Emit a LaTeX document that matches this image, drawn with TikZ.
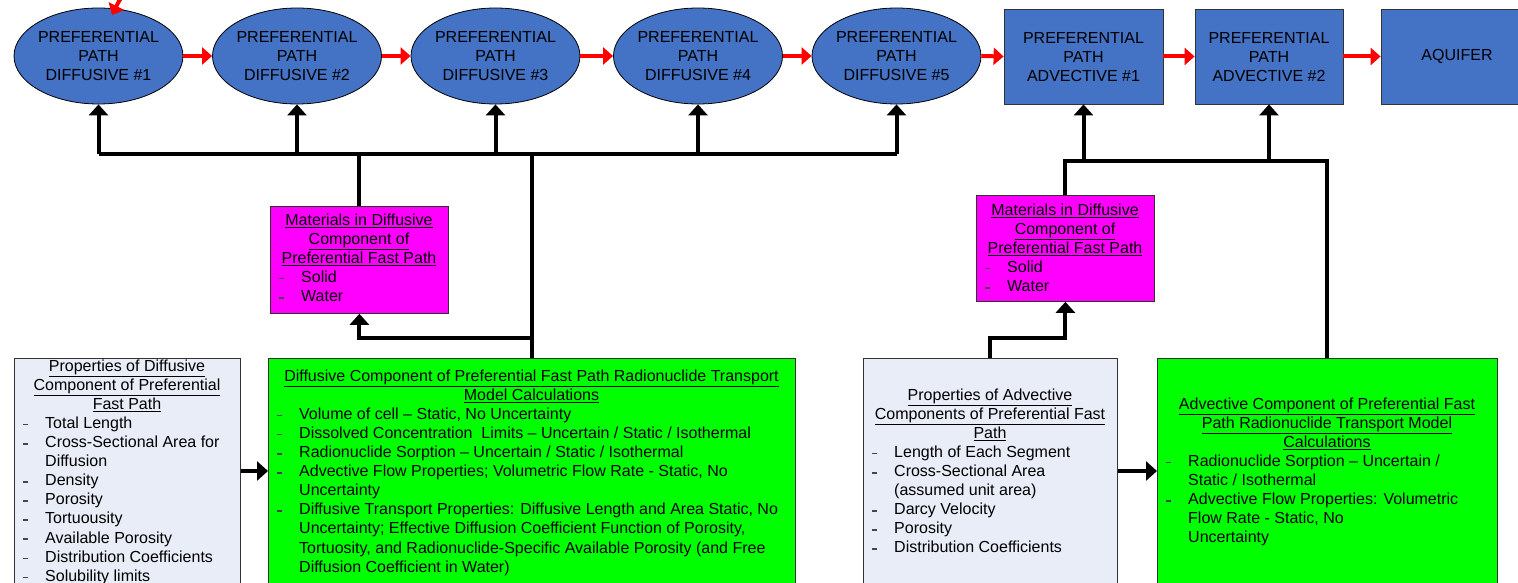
\documentclass[tikz,border=0pt]{standalone}
\usepackage{fontspec}
\setmainfont{Liberation Sans}
\usetikzlibrary{arrows.meta,shapes.geometric}

\definecolor{pathblue}{RGB}{68,114,196}
\definecolor{propfill}{RGB}{232,237,247}
\definecolor{calcgreen}{RGB}{0,255,0}
\definecolor{matmagenta}{RGB}{255,0,255}
\definecolor{edgegray}{RGB}{50,50,50}
\definecolor{dashgray}{RGB}{70,70,70}

\newcommand\bodyfont{\fontsize{16}{19.1}\selectfont}
% taller strut that lowers the three-line labels a little
\newcommand\topstrut{\rule{0pt}{17.4pt}}
% underlined heading line
\newcommand\hdl[1]{\strut\underline{#1}}
% bullet line and its continuation
\newcommand\dashmark{\raisebox{3pt}{\textcolor{dashgray}{\rule{5pt}{1.6pt}}}}
\newcommand\itm[1]{\strut\hspace*{9pt}\dashmark\hspace*{17pt}#1}
\newcommand\cnt[1]{\strut\hspace*{31pt}#1}

\begin{document}
\begin{tikzpicture}[x=1pt,y=-1pt,
  diffnode/.style={ellipse, draw=black, line width=0.8pt, fill=pathblue,
    minimum width=169pt, minimum height=96pt, inner sep=-1pt, align=center, font=\bodyfont},
  advnode/.style={rectangle, draw=edgegray, line width=0.8pt, fill=pathblue,
    minimum height=95pt, inner sep=0pt, align=center, font=\bodyfont},
  propbox/.style={rectangle, draw=edgegray, line width=0.8pt, fill=propfill, anchor=north west, inner sep=0pt},
  calcbox/.style={rectangle, draw=edgegray, line width=0.8pt, fill=calcgreen, anchor=north west, inner sep=0pt},
  matbox/.style={rectangle, draw=edgegray, line width=0.8pt, fill=matmagenta, anchor=north west, inner sep=0pt},
  heading/.style={anchor=north, inner sep=0pt, align=center, font=\bodyfont},
  items/.style={anchor=north west, inner sep=0pt, align=left, font=\bodyfont},
  flow/.style={draw=red, line width=4pt, -{Triangle[length=10pt,width=17pt]}},
  feed/.style={draw=black, line width=4pt},
  feedtip/.style={feed, -{Triangle[length=11pt,width=19pt]}}
]
\clip (0,0) rectangle (1518,583);
\fill[white] (0,0) rectangle (1518,583);

% ---- transport chain ----
\node[diffnode] (d1) at (98.5,56) {\topstrut PREFERENTIAL\\\strut PATH\\\strut DIFFUSIVE \#1};
\node[diffnode] (d2) at (297,56) {\topstrut PREFERENTIAL\\\strut PATH\\\strut DIFFUSIVE \#2};
\node[diffnode] (d3) at (495.5,56) {\topstrut PREFERENTIAL\\\strut PATH\\\strut DIFFUSIVE \#3};
\node[diffnode] (d4) at (698,56) {\topstrut PREFERENTIAL\\\strut PATH\\\strut DIFFUSIVE \#4};
\node[diffnode] (d5) at (896.5,56) {\topstrut PREFERENTIAL\\\strut PATH\\\strut DIFFUSIVE \#5};
\node[advnode, minimum width=159pt] (a1) at (1083.5,56.5) {\topstrut PREFERENTIAL\\\strut PATH\\\strut ADVECTIVE \#1};
\node[advnode, minimum width=148pt] (a2) at (1269,56.5) {\topstrut PREFERENTIAL\\\strut PATH\\\strut ADVECTIVE \#2};
\node[advnode, minimum width=152pt] (aq) at (1457,56.5) {AQUIFER};

\draw[flow] (d1.east) -- (d2.west);
\draw[flow] (d2.east) -- (d3.west);
\draw[flow] (d3.east) -- (d4.west);
\draw[flow] (d4.east) -- (d5.west);
\draw[flow] (d5.east) -- (a1.west);
\draw[flow] (a1.east) -- (a2.west);
\draw[flow] (a2.east) -- (aq.west);

% incoming flow entering the first diffusive cell from above
\coordinate (hookstart) at (130,-10);
\coordinate (hooktip) at (112,15);
\draw[flow] (hookstart) .. controls (121,-3) .. (hooktip);

% ---- boxes ----
\node[propbox, minimum width=226pt, minimum height=240pt] (p1) at (14,358) {};
\node[calcbox, minimum width=527pt, minimum height=240pt] (g1) at (268,358) {};
\node[matbox, minimum width=178pt, minimum height=107pt] (m1) at (270,206) {};
\node[propbox, minimum width=254pt, minimum height=240pt] (p2) at (863,358) {};
\node[calcbox, minimum width=340pt, minimum height=240pt] (g2) at (1157,358) {};
\node[matbox, minimum width=178pt, minimum height=106pt] (m2) at (976,195) {};

% ---- box texts ----
\node[heading] (p1h) at (127,357.6) {\hdl{Properties of Diffusive}\\\hdl{Component of Preferential}\\\hdl{Fast Path}};
\node[items] (p1i) at (14,414.9) {\itm{Total Length}\\\itm{Cross-Sectional Area for}\\\cnt{Diffusion}\\\itm{Density}\\\itm{Porosity}\\\itm{Tortuousity}\\\itm{Available Porosity}\\\itm{Distribution Coefficients}\\\itm{Solubility limits}};

\node[heading] (g1h) at (531.5,367.6) {\hdl{Diffusive Component of Preferential Fast Path Radionuclide Transport}\\\hdl{Model Calculations}};
\node[items] (g1i) at (268,405.8) {\itm{Volume of cell -- Static, No Uncertainty}\\\itm{Dissolved Concentration~ Limits -- Uncertain / Static / Isothermal}\\\itm{Radionuclide Sorption -- Uncertain / Static / Isothermal}\\\itm{Advective Flow Properties; Volumetric Flow Rate - Static, No}\\\cnt{Uncertainty}\\\itm{Diffusive Transport Properties: Diffusive Length and Area Static, No}\\\cnt{Uncertainty; Effective Diffusion Coefficient Function of Porosity,}\\\cnt{Tortuosity, and Radionuclide-Specific Available Porosity (and Free}\\\cnt{Diffusion Coefficient in Water)}};

\node[heading] (m1h) at (359,211.6) {\hdl{Materials in Diffusive}\\\hdl{Component of}\\\hdl{Preferential Fast Path}};
\node[items] (m1i) at (270,268.9) {\itm{Solid}\\\itm{Water}};

\node[heading] (p2h) at (990,386.6) {\hdl{Properties of Advective}\\\hdl{Components of Preferential Fast}\\\hdl{Path}};
\node[items] (p2i) at (863,443.9) {\itm{Length of Each Segment}\\\itm{Cross-Sectional Area}\\\cnt{(assumed unit area)}\\\itm{Darcy Velocity}\\\itm{Porosity}\\\itm{Distribution Coefficients}};

\node[heading] (g2h) at (1327,395.6) {\hdl{Advective Component of Preferential Fast}\\\hdl{Path Radionuclide Transport Model}\\\hdl{Calculations}};
\node[items] (g2i) at (1157,452.9) {\itm{Radionuclide Sorption -- Uncertain /}\\\cnt{Static / Isothermal}\\\itm{Advective Flow Properties: Volumetric}\\\cnt{Flow Rate - Static, No}\\\cnt{Uncertainty}};

\node[heading] (m2h) at (1065,201.6) {\hdl{Materials in Diffusive}\\\hdl{Component of}\\\hdl{Preferential Fast Path}};
\node[items] (m2i) at (976,258.9) {\itm{Solid}\\\itm{Water}};

% ---- diffusive feed network ----
\coordinate (busA) at (0,154);
\coordinate (branchA) at (0,338);
\draw[feed] (d1.south |- busA) -- (d5.south |- busA);
\foreach \n in {d1,d2,d3,d4,d5}{\draw[feedtip] (\n.south |- busA) -- (\n.south);}
\draw[feed] (g1.north) -- (g1.north |- busA);
\draw[feed] (m1.north |- busA) -- (m1.north);
\draw[feedtip] (g1.north |- branchA) -| (m1.south);

% ---- advective feed network ----
\coordinate (busB) at (0,161);
\coordinate (branchB) at (0,338);
\draw[feed] (m2.north) -- (m2.north |- busB) -- (g2.north |- busB) -- (g2.north);
\draw[feedtip] (a1.south |- busB) -- (a1.south);
\draw[feedtip] (a2.south |- busB) -- (a2.south);
\draw[feedtip] (p2.north) -- (p2.north |- branchB) -| (m2.south);

% ---- property-to-calculation arrows ----
\coordinate (row) at (0,471);
\draw[feedtip] (p1.east |- row) -- (g1.west |- row);
\draw[feedtip] (p2.east |- row) -- (g2.west |- row);
\end{tikzpicture}
\end{document}
